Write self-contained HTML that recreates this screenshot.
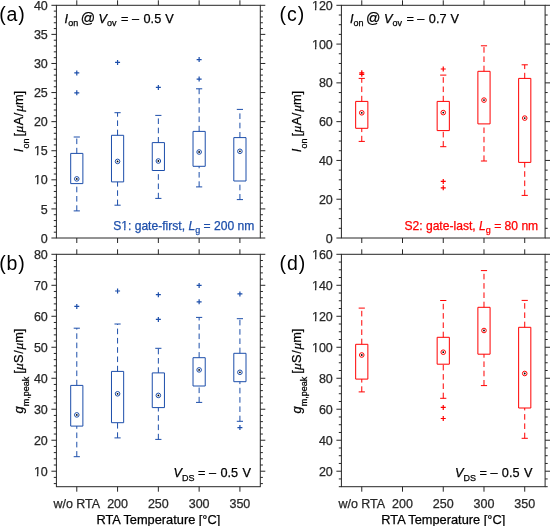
<!DOCTYPE html>
<html><head><meta charset="utf-8"><style>
html,body{margin:0;padding:0;background:#fff;}
svg{display:block;}
svg{will-change:transform;}
text{font-family:"Liberation Sans",sans-serif;stroke-width:0.25px;paint-order:stroke;}
.t,.l,.an{stroke:#000;}
.t{font-size:12.5px;fill:#262626;stroke:#262626 !important;}
.l{font-size:12.8px;fill:#000;}
.pl{font-size:19.5px;fill:#000;letter-spacing:0.9px;}
.an{font-size:12.7px;fill:#000;}
.sn{font-size:12.1px;}
.mu{font-family:"Liberation Serif",serif;font-style:italic;font-size:13.5px;}
</style></head><body>
<svg width="550" height="526" viewBox="0 0 550 526">
<rect width="550" height="526" fill="#fff"/>
<rect x="56.4" y="5.3" width="203.90" height="232.70" fill="none" stroke="#262626" stroke-width="1"/>
<path d="M76.79 5.3V0.2999999999999998M76.79 238.0V243.0M117.57 5.3V0.2999999999999998M117.57 238.0V243.0M158.35 5.3V0.2999999999999998M158.35 238.0V243.0M199.13 5.3V0.2999999999999998M199.13 238.0V243.0M239.91 5.3V0.2999999999999998M239.91 238.0V243.0M56.4 238.00H51.4M260.3 238.00H265.3M56.4 232.18H53.8M260.3 232.18H262.90000000000003M56.4 226.37H53.8M260.3 226.37H262.90000000000003M56.4 220.55H53.8M260.3 220.55H262.90000000000003M56.4 214.73H53.8M260.3 214.73H262.90000000000003M56.4 208.91H51.4M260.3 208.91H265.3M56.4 203.09H53.8M260.3 203.09H262.90000000000003M56.4 197.28H53.8M260.3 197.28H262.90000000000003M56.4 191.46H53.8M260.3 191.46H262.90000000000003M56.4 185.64H53.8M260.3 185.64H262.90000000000003M56.4 179.82H51.4M260.3 179.82H265.3M56.4 174.01H53.8M260.3 174.01H262.90000000000003M56.4 168.19H53.8M260.3 168.19H262.90000000000003M56.4 162.37H53.8M260.3 162.37H262.90000000000003M56.4 156.56H53.8M260.3 156.56H262.90000000000003M56.4 150.74H51.4M260.3 150.74H265.3M56.4 144.92H53.8M260.3 144.92H262.90000000000003M56.4 139.10H53.8M260.3 139.10H262.90000000000003M56.4 133.29H53.8M260.3 133.29H262.90000000000003M56.4 127.47H53.8M260.3 127.47H262.90000000000003M56.4 121.65H51.4M260.3 121.65H265.3M56.4 115.83H53.8M260.3 115.83H262.90000000000003M56.4 110.02H53.8M260.3 110.02H262.90000000000003M56.4 104.20H53.8M260.3 104.20H262.90000000000003M56.4 98.38H53.8M260.3 98.38H262.90000000000003M56.4 92.56H51.4M260.3 92.56H265.3M56.4 86.75H53.8M260.3 86.75H262.90000000000003M56.4 80.93H53.8M260.3 80.93H262.90000000000003M56.4 75.11H53.8M260.3 75.11H262.90000000000003M56.4 69.29H53.8M260.3 69.29H262.90000000000003M56.4 63.47H51.4M260.3 63.47H265.3M56.4 57.66H53.8M260.3 57.66H262.90000000000003M56.4 51.84H53.8M260.3 51.84H262.90000000000003M56.4 46.02H53.8M260.3 46.02H262.90000000000003M56.4 40.21H53.8M260.3 40.21H262.90000000000003M56.4 34.39H51.4M260.3 34.39H265.3M56.4 28.57H53.8M260.3 28.57H262.90000000000003M56.4 22.75H53.8M260.3 22.75H262.90000000000003M56.4 16.94H53.8M260.3 16.94H262.90000000000003M56.4 11.12H53.8M260.3 11.12H262.90000000000003M56.4 5.30H51.4M260.3 5.30H265.3" stroke="#262626" stroke-width="1" fill="none"/>
<text x="47.80" y="242.60" text-anchor="end" class="t">0</text>
<text x="47.80" y="213.51" text-anchor="end" class="t">5</text>
<text x="47.80" y="184.42" text-anchor="end" class="t">10</text>
<text x="47.80" y="155.34" text-anchor="end" class="t">15</text>
<text x="47.80" y="126.25" text-anchor="end" class="t">20</text>
<text x="47.80" y="97.16" text-anchor="end" class="t">25</text>
<text x="47.80" y="68.07" text-anchor="end" class="t">30</text>
<text x="47.80" y="38.99" text-anchor="end" class="t">35</text>
<text x="47.80" y="9.90" text-anchor="end" class="t">40</text>
<rect x="56.4" y="254.3" width="203.90" height="232.40" fill="none" stroke="#262626" stroke-width="1"/>
<path d="M76.79 254.3V249.3M76.79 486.7V491.7M117.57 254.3V249.3M117.57 486.7V491.7M158.35 254.3V249.3M158.35 486.7V491.7M199.13 254.3V249.3M199.13 486.7V491.7M239.91 254.3V249.3M239.91 486.7V491.7M56.4 483.60H53.8M260.3 483.60H262.90000000000003M56.4 477.40H53.8M260.3 477.40H262.90000000000003M56.4 471.21H51.4M260.3 471.21H265.3M56.4 465.01H53.8M260.3 465.01H262.90000000000003M56.4 458.81H53.8M260.3 458.81H262.90000000000003M56.4 452.61H53.8M260.3 452.61H262.90000000000003M56.4 446.42H53.8M260.3 446.42H262.90000000000003M56.4 440.22H51.4M260.3 440.22H265.3M56.4 434.02H53.8M260.3 434.02H262.90000000000003M56.4 427.83H53.8M260.3 427.83H262.90000000000003M56.4 421.63H53.8M260.3 421.63H262.90000000000003M56.4 415.43H53.8M260.3 415.43H262.90000000000003M56.4 409.23H51.4M260.3 409.23H265.3M56.4 403.04H53.8M260.3 403.04H262.90000000000003M56.4 396.84H53.8M260.3 396.84H262.90000000000003M56.4 390.64H53.8M260.3 390.64H262.90000000000003M56.4 384.44H53.8M260.3 384.44H262.90000000000003M56.4 378.25H51.4M260.3 378.25H265.3M56.4 372.05H53.8M260.3 372.05H262.90000000000003M56.4 365.85H53.8M260.3 365.85H262.90000000000003M56.4 359.65H53.8M260.3 359.65H262.90000000000003M56.4 353.46H53.8M260.3 353.46H262.90000000000003M56.4 347.26H51.4M260.3 347.26H265.3M56.4 341.06H53.8M260.3 341.06H262.90000000000003M56.4 334.87H53.8M260.3 334.87H262.90000000000003M56.4 328.67H53.8M260.3 328.67H262.90000000000003M56.4 322.47H53.8M260.3 322.47H262.90000000000003M56.4 316.27H51.4M260.3 316.27H265.3M56.4 310.08H53.8M260.3 310.08H262.90000000000003M56.4 303.88H53.8M260.3 303.88H262.90000000000003M56.4 297.68H53.8M260.3 297.68H262.90000000000003M56.4 291.48H53.8M260.3 291.48H262.90000000000003M56.4 285.29H51.4M260.3 285.29H265.3M56.4 279.09H53.8M260.3 279.09H262.90000000000003M56.4 272.89H53.8M260.3 272.89H262.90000000000003M56.4 266.69H53.8M260.3 266.69H262.90000000000003M56.4 260.50H53.8M260.3 260.50H262.90000000000003M56.4 254.30H51.4M260.3 254.30H265.3" stroke="#262626" stroke-width="1" fill="none"/>
<text x="47.80" y="475.81" text-anchor="end" class="t">10</text>
<text x="47.80" y="444.82" text-anchor="end" class="t">20</text>
<text x="47.80" y="413.83" text-anchor="end" class="t">30</text>
<text x="47.80" y="382.85" text-anchor="end" class="t">40</text>
<text x="47.80" y="351.86" text-anchor="end" class="t">50</text>
<text x="47.80" y="320.87" text-anchor="end" class="t">60</text>
<text x="47.80" y="289.89" text-anchor="end" class="t">70</text>
<text x="47.80" y="258.90" text-anchor="end" class="t">80</text>
<rect x="341.4" y="5.3" width="203.70" height="232.70" fill="none" stroke="#262626" stroke-width="1"/>
<path d="M361.77 5.3V0.2999999999999998M361.77 238.0V243.0M402.51 5.3V0.2999999999999998M402.51 238.0V243.0M443.25 5.3V0.2999999999999998M443.25 238.0V243.0M483.99 5.3V0.2999999999999998M483.99 238.0V243.0M524.73 5.3V0.2999999999999998M524.73 238.0V243.0M341.4 238.00H336.4M545.1 238.00H550.1M341.4 228.30H338.79999999999995M545.1 228.30H547.7M341.4 218.61H338.79999999999995M545.1 218.61H547.7M341.4 208.91H338.79999999999995M545.1 208.91H547.7M341.4 199.22H336.4M545.1 199.22H550.1M341.4 189.52H338.79999999999995M545.1 189.52H547.7M341.4 179.82H338.79999999999995M545.1 179.82H547.7M341.4 170.13H338.79999999999995M545.1 170.13H547.7M341.4 160.43H336.4M545.1 160.43H550.1M341.4 150.74H338.79999999999995M545.1 150.74H547.7M341.4 141.04H338.79999999999995M545.1 141.04H547.7M341.4 131.35H338.79999999999995M545.1 131.35H547.7M341.4 121.65H336.4M545.1 121.65H550.1M341.4 111.95H338.79999999999995M545.1 111.95H547.7M341.4 102.26H338.79999999999995M545.1 102.26H547.7M341.4 92.56H338.79999999999995M545.1 92.56H547.7M341.4 82.87H336.4M545.1 82.87H550.1M341.4 73.17H338.79999999999995M545.1 73.17H547.7M341.4 63.47H338.79999999999995M545.1 63.47H547.7M341.4 53.78H338.79999999999995M545.1 53.78H547.7M341.4 44.08H336.4M545.1 44.08H550.1M341.4 34.39H338.79999999999995M545.1 34.39H547.7M341.4 24.69H338.79999999999995M545.1 24.69H547.7M341.4 15.00H338.79999999999995M545.1 15.00H547.7M341.4 5.30H336.4M545.1 5.30H550.1" stroke="#262626" stroke-width="1" fill="none"/>
<text x="332.80" y="242.60" text-anchor="end" class="t">0</text>
<text x="332.80" y="203.82" text-anchor="end" class="t">20</text>
<text x="332.80" y="165.03" text-anchor="end" class="t">40</text>
<text x="332.80" y="126.25" text-anchor="end" class="t">60</text>
<text x="332.80" y="87.47" text-anchor="end" class="t">80</text>
<text x="332.80" y="48.68" text-anchor="end" class="t">100</text>
<text x="332.80" y="9.90" text-anchor="end" class="t">120</text>
<rect x="341.4" y="254.3" width="203.70" height="232.40" fill="none" stroke="#262626" stroke-width="1"/>
<path d="M361.77 254.3V249.3M361.77 486.7V491.7M402.51 254.3V249.3M402.51 486.7V491.7M443.25 254.3V249.3M443.25 486.7V491.7M483.99 254.3V249.3M483.99 486.7V491.7M524.73 254.3V249.3M524.73 486.7V491.7M341.4 486.70H338.79999999999995M545.1 486.70H547.7M341.4 478.95H338.79999999999995M545.1 478.95H547.7M341.4 471.21H336.4M545.1 471.21H550.1M341.4 463.46H338.79999999999995M545.1 463.46H547.7M341.4 455.71H338.79999999999995M545.1 455.71H547.7M341.4 447.97H338.79999999999995M545.1 447.97H547.7M341.4 440.22H336.4M545.1 440.22H550.1M341.4 432.47H338.79999999999995M545.1 432.47H547.7M341.4 424.73H338.79999999999995M545.1 424.73H547.7M341.4 416.98H338.79999999999995M545.1 416.98H547.7M341.4 409.23H336.4M545.1 409.23H550.1M341.4 401.49H338.79999999999995M545.1 401.49H547.7M341.4 393.74H338.79999999999995M545.1 393.74H547.7M341.4 385.99H338.79999999999995M545.1 385.99H547.7M341.4 378.25H336.4M545.1 378.25H550.1M341.4 370.50H338.79999999999995M545.1 370.50H547.7M341.4 362.75H338.79999999999995M545.1 362.75H547.7M341.4 355.01H338.79999999999995M545.1 355.01H547.7M341.4 347.26H336.4M545.1 347.26H550.1M341.4 339.51H338.79999999999995M545.1 339.51H547.7M341.4 331.77H338.79999999999995M545.1 331.77H547.7M341.4 324.02H338.79999999999995M545.1 324.02H547.7M341.4 316.27H336.4M545.1 316.27H550.1M341.4 308.53H338.79999999999995M545.1 308.53H547.7M341.4 300.78H338.79999999999995M545.1 300.78H547.7M341.4 293.03H338.79999999999995M545.1 293.03H547.7M341.4 285.29H336.4M545.1 285.29H550.1M341.4 277.54H338.79999999999995M545.1 277.54H547.7M341.4 269.79H338.79999999999995M545.1 269.79H547.7M341.4 262.05H338.79999999999995M545.1 262.05H547.7M341.4 254.30H336.4M545.1 254.30H550.1" stroke="#262626" stroke-width="1" fill="none"/>
<text x="332.80" y="475.81" text-anchor="end" class="t">20</text>
<text x="332.80" y="444.82" text-anchor="end" class="t">40</text>
<text x="332.80" y="413.83" text-anchor="end" class="t">60</text>
<text x="332.80" y="382.85" text-anchor="end" class="t">80</text>
<text x="332.80" y="351.86" text-anchor="end" class="t">100</text>
<text x="332.80" y="320.87" text-anchor="end" class="t">120</text>
<text x="332.80" y="289.89" text-anchor="end" class="t">140</text>
<text x="332.80" y="258.90" text-anchor="end" class="t">160</text>
<rect x="70.69" y="153.4" width="12.2" height="30.20" fill="none" stroke="#1c4eaa" stroke-width="1" stroke-linejoin="round"/>
<path d="M76.79 153.4V137.0M76.79 210.9V183.6" stroke="#1c4eaa" stroke-width="1" stroke-dasharray="5.6 3.7" fill="none"/>
<path d="M73.69 137.0H79.89M73.69 210.9H79.89" stroke="#1c4eaa" stroke-width="1" fill="none"/>
<circle cx="76.79" cy="178.9" r="2.3" fill="none" stroke="#1c4eaa" stroke-width="1" stroke-linejoin="round"/>
<circle cx="76.79" cy="178.9" r="0.9" fill="#000"/>
<path d="M74.29 72.9H79.29M76.79 70.4V75.4" stroke="#1c4eaa" stroke-width="1.2" fill="none"/>
<path d="M74.29 92.8H79.29M76.79 90.3V95.3" stroke="#1c4eaa" stroke-width="1.2" fill="none"/>
<rect x="111.47" y="135.3" width="12.2" height="46.60" fill="none" stroke="#1c4eaa" stroke-width="1" stroke-linejoin="round"/>
<path d="M117.57 135.3V112.7M117.57 205.2V181.9" stroke="#1c4eaa" stroke-width="1" stroke-dasharray="5.6 3.7" fill="none"/>
<path d="M114.47 112.7H120.67M114.47 205.2H120.67" stroke="#1c4eaa" stroke-width="1" fill="none"/>
<circle cx="117.57" cy="161.4" r="2.3" fill="none" stroke="#1c4eaa" stroke-width="1" stroke-linejoin="round"/>
<circle cx="117.57" cy="161.4" r="0.9" fill="#000"/>
<path d="M115.07 62.4H120.07M117.57 59.9V64.9" stroke="#1c4eaa" stroke-width="1.2" fill="none"/>
<rect x="152.25" y="142.6" width="12.2" height="27.90" fill="none" stroke="#1c4eaa" stroke-width="1" stroke-linejoin="round"/>
<path d="M158.35 142.6V115.4M158.35 198.4V170.5" stroke="#1c4eaa" stroke-width="1" stroke-dasharray="5.6 3.7" fill="none"/>
<path d="M155.25 115.4H161.45M155.25 198.4H161.45" stroke="#1c4eaa" stroke-width="1" fill="none"/>
<circle cx="158.35" cy="161.0" r="2.3" fill="none" stroke="#1c4eaa" stroke-width="1" stroke-linejoin="round"/>
<circle cx="158.35" cy="161.0" r="0.9" fill="#000"/>
<path d="M155.85 87.4H160.85M158.35 84.9V89.9" stroke="#1c4eaa" stroke-width="1.2" fill="none"/>
<rect x="193.03" y="131.4" width="12.2" height="34.90" fill="none" stroke="#1c4eaa" stroke-width="1" stroke-linejoin="round"/>
<path d="M199.13 131.4V88.8M199.13 186.9V166.3" stroke="#1c4eaa" stroke-width="1" stroke-dasharray="5.6 3.7" fill="none"/>
<path d="M196.03 88.8H202.23M196.03 186.9H202.23" stroke="#1c4eaa" stroke-width="1" fill="none"/>
<circle cx="199.13" cy="152.0" r="2.3" fill="none" stroke="#1c4eaa" stroke-width="1" stroke-linejoin="round"/>
<circle cx="199.13" cy="152.0" r="0.9" fill="#000"/>
<path d="M196.63 59.6H201.63M199.13 57.1V62.1" stroke="#1c4eaa" stroke-width="1.2" fill="none"/>
<path d="M196.63 79.1H201.63M199.13 76.6V81.6" stroke="#1c4eaa" stroke-width="1.2" fill="none"/>
<rect x="233.81" y="137.6" width="12.2" height="43.40" fill="none" stroke="#1c4eaa" stroke-width="1" stroke-linejoin="round"/>
<path d="M239.91 137.6V109.4M239.91 199.6V181.0" stroke="#1c4eaa" stroke-width="1" stroke-dasharray="5.6 3.7" fill="none"/>
<path d="M236.81 109.4H243.01M236.81 199.6H243.01" stroke="#1c4eaa" stroke-width="1" fill="none"/>
<circle cx="239.91" cy="151.3" r="2.3" fill="none" stroke="#1c4eaa" stroke-width="1" stroke-linejoin="round"/>
<circle cx="239.91" cy="151.3" r="0.9" fill="#000"/>
<rect x="70.69" y="385.4" width="12.2" height="40.70" fill="none" stroke="#1c4eaa" stroke-width="1" stroke-linejoin="round"/>
<path d="M76.79 385.4V328.2M76.79 456.7V426.1" stroke="#1c4eaa" stroke-width="1" stroke-dasharray="5.6 3.7" fill="none"/>
<path d="M73.69 328.2H79.89M73.69 456.7H79.89" stroke="#1c4eaa" stroke-width="1" fill="none"/>
<circle cx="76.79" cy="414.9" r="2.3" fill="none" stroke="#1c4eaa" stroke-width="1" stroke-linejoin="round"/>
<circle cx="76.79" cy="414.9" r="0.9" fill="#000"/>
<path d="M74.29 306.4H79.29M76.79 303.9V308.9" stroke="#1c4eaa" stroke-width="1.2" fill="none"/>
<rect x="111.47" y="371.4" width="12.2" height="51.30" fill="none" stroke="#1c4eaa" stroke-width="1" stroke-linejoin="round"/>
<path d="M117.57 371.4V324.0M117.57 437.9V422.7" stroke="#1c4eaa" stroke-width="1" stroke-dasharray="5.6 3.7" fill="none"/>
<path d="M114.47 324.0H120.67M114.47 437.9H120.67" stroke="#1c4eaa" stroke-width="1" fill="none"/>
<circle cx="117.57" cy="393.8" r="2.3" fill="none" stroke="#1c4eaa" stroke-width="1" stroke-linejoin="round"/>
<circle cx="117.57" cy="393.8" r="0.9" fill="#000"/>
<path d="M115.07 291.0H120.07M117.57 288.5V293.5" stroke="#1c4eaa" stroke-width="1.2" fill="none"/>
<rect x="152.25" y="372.9" width="12.2" height="34.70" fill="none" stroke="#1c4eaa" stroke-width="1" stroke-linejoin="round"/>
<path d="M158.35 372.9V348.3M158.35 439.4V407.6" stroke="#1c4eaa" stroke-width="1" stroke-dasharray="5.6 3.7" fill="none"/>
<path d="M155.25 348.3H161.45M155.25 439.4H161.45" stroke="#1c4eaa" stroke-width="1" fill="none"/>
<circle cx="158.35" cy="395.4" r="2.3" fill="none" stroke="#1c4eaa" stroke-width="1" stroke-linejoin="round"/>
<circle cx="158.35" cy="395.4" r="0.9" fill="#000"/>
<path d="M155.85 294.7H160.85M158.35 292.2V297.2" stroke="#1c4eaa" stroke-width="1.2" fill="none"/>
<path d="M155.85 319.4H160.85M158.35 316.9V321.9" stroke="#1c4eaa" stroke-width="1.2" fill="none"/>
<rect x="193.03" y="357.7" width="12.2" height="28.30" fill="none" stroke="#1c4eaa" stroke-width="1" stroke-linejoin="round"/>
<path d="M199.13 357.7V317.4M199.13 402.4V386.0" stroke="#1c4eaa" stroke-width="1" stroke-dasharray="5.6 3.7" fill="none"/>
<path d="M196.03 317.4H202.23M196.03 402.4H202.23" stroke="#1c4eaa" stroke-width="1" fill="none"/>
<circle cx="199.13" cy="369.9" r="2.3" fill="none" stroke="#1c4eaa" stroke-width="1" stroke-linejoin="round"/>
<circle cx="199.13" cy="369.9" r="0.9" fill="#000"/>
<path d="M196.63 285.4H201.63M199.13 282.9V287.9" stroke="#1c4eaa" stroke-width="1.2" fill="none"/>
<path d="M196.63 301.8H201.63M199.13 299.3V304.3" stroke="#1c4eaa" stroke-width="1.2" fill="none"/>
<rect x="233.81" y="353.3" width="12.2" height="28.40" fill="none" stroke="#1c4eaa" stroke-width="1" stroke-linejoin="round"/>
<path d="M239.91 353.3V318.7M239.91 421.3V381.7" stroke="#1c4eaa" stroke-width="1" stroke-dasharray="5.6 3.7" fill="none"/>
<path d="M236.81 318.7H243.01M236.81 421.3H243.01" stroke="#1c4eaa" stroke-width="1" fill="none"/>
<circle cx="239.91" cy="372.3" r="2.3" fill="none" stroke="#1c4eaa" stroke-width="1" stroke-linejoin="round"/>
<circle cx="239.91" cy="372.3" r="0.9" fill="#000"/>
<path d="M237.41 293.9H242.41M239.91 291.4V296.4" stroke="#1c4eaa" stroke-width="1.2" fill="none"/>
<path d="M237.41 427.6H242.41M239.91 425.1V430.1" stroke="#1c4eaa" stroke-width="1.2" fill="none"/>
<rect x="355.67" y="101.4" width="12.2" height="26.90" fill="none" stroke="#ff0000" stroke-width="1" stroke-linejoin="round"/>
<path d="M361.77 101.4V78.4M361.77 141.4V128.3" stroke="#ff0000" stroke-width="1" stroke-dasharray="5.6 3.7" fill="none"/>
<path d="M358.67 78.4H364.87M358.67 141.4H364.87" stroke="#ff0000" stroke-width="1" fill="none"/>
<circle cx="361.77" cy="112.8" r="2.3" fill="none" stroke="#ff0000" stroke-width="1" stroke-linejoin="round"/>
<circle cx="361.77" cy="112.8" r="0.9" fill="#000"/>
<path d="M359.27 72.8H364.27M361.77 70.3V75.3" stroke="#ff0000" stroke-width="1.2" fill="none"/>
<path d="M359.27 74.3H364.27M361.77 71.8V76.8" stroke="#ff0000" stroke-width="1.2" fill="none"/>
<rect x="437.15" y="101.4" width="12.2" height="29.20" fill="none" stroke="#ff0000" stroke-width="1" stroke-linejoin="round"/>
<path d="M443.25 101.4V75.1M443.25 146.7V130.6" stroke="#ff0000" stroke-width="1" stroke-dasharray="5.6 3.7" fill="none"/>
<path d="M440.15 75.1H446.35M440.15 146.7H446.35" stroke="#ff0000" stroke-width="1" fill="none"/>
<circle cx="443.25" cy="112.6" r="2.3" fill="none" stroke="#ff0000" stroke-width="1" stroke-linejoin="round"/>
<circle cx="443.25" cy="112.6" r="0.9" fill="#000"/>
<path d="M440.75 69.0H445.75M443.25 66.5V71.5" stroke="#ff0000" stroke-width="1.2" fill="none"/>
<path d="M440.75 181.4H445.75M443.25 178.9V183.9" stroke="#ff0000" stroke-width="1.2" fill="none"/>
<path d="M440.75 187.8H445.75M443.25 185.3V190.3" stroke="#ff0000" stroke-width="1.2" fill="none"/>
<rect x="477.89" y="71.3" width="12.2" height="52.60" fill="none" stroke="#ff0000" stroke-width="1" stroke-linejoin="round"/>
<path d="M483.99 71.3V45.8M483.99 161.0V123.9" stroke="#ff0000" stroke-width="1" stroke-dasharray="5.6 3.7" fill="none"/>
<path d="M480.89 45.8H487.09M480.89 161.0H487.09" stroke="#ff0000" stroke-width="1" fill="none"/>
<circle cx="483.99" cy="100.1" r="2.3" fill="none" stroke="#ff0000" stroke-width="1" stroke-linejoin="round"/>
<circle cx="483.99" cy="100.1" r="0.9" fill="#000"/>
<rect x="518.63" y="78.4" width="12.2" height="84.00" fill="none" stroke="#ff0000" stroke-width="1" stroke-linejoin="round"/>
<path d="M524.73 78.4V64.8M524.73 195.4V162.4" stroke="#ff0000" stroke-width="1" stroke-dasharray="5.6 3.7" fill="none"/>
<path d="M521.63 64.8H527.83M521.63 195.4H527.83" stroke="#ff0000" stroke-width="1" fill="none"/>
<circle cx="524.73" cy="118.1" r="2.3" fill="none" stroke="#ff0000" stroke-width="1" stroke-linejoin="round"/>
<circle cx="524.73" cy="118.1" r="0.9" fill="#000"/>
<rect x="355.67" y="344.3" width="12.2" height="34.80" fill="none" stroke="#ff0000" stroke-width="1" stroke-linejoin="round"/>
<path d="M361.77 344.3V308.1M361.77 391.9V379.1" stroke="#ff0000" stroke-width="1" stroke-dasharray="5.6 3.7" fill="none"/>
<path d="M358.67 308.1H364.87M358.67 391.9H364.87" stroke="#ff0000" stroke-width="1" fill="none"/>
<circle cx="361.77" cy="355.0" r="2.3" fill="none" stroke="#ff0000" stroke-width="1" stroke-linejoin="round"/>
<circle cx="361.77" cy="355.0" r="0.9" fill="#000"/>
<rect x="437.15" y="337.3" width="12.2" height="26.90" fill="none" stroke="#ff0000" stroke-width="1" stroke-linejoin="round"/>
<path d="M443.25 337.3V300.5M443.25 398.3V364.2" stroke="#ff0000" stroke-width="1" stroke-dasharray="5.6 3.7" fill="none"/>
<path d="M440.15 300.5H446.35M440.15 398.3H446.35" stroke="#ff0000" stroke-width="1" fill="none"/>
<circle cx="443.25" cy="352.2" r="2.3" fill="none" stroke="#ff0000" stroke-width="1" stroke-linejoin="round"/>
<circle cx="443.25" cy="352.2" r="0.9" fill="#000"/>
<path d="M440.75 407.4H445.75M443.25 404.9V409.9" stroke="#ff0000" stroke-width="1.2" fill="none"/>
<path d="M440.75 418.5H445.75M443.25 416.0V421.0" stroke="#ff0000" stroke-width="1.2" fill="none"/>
<rect x="477.89" y="307.3" width="12.2" height="46.90" fill="none" stroke="#ff0000" stroke-width="1" stroke-linejoin="round"/>
<path d="M483.99 307.3V270.6M483.99 385.6V354.2" stroke="#ff0000" stroke-width="1" stroke-dasharray="5.6 3.7" fill="none"/>
<path d="M480.89 270.6H487.09M480.89 385.6H487.09" stroke="#ff0000" stroke-width="1" fill="none"/>
<circle cx="483.99" cy="330.5" r="2.3" fill="none" stroke="#ff0000" stroke-width="1" stroke-linejoin="round"/>
<circle cx="483.99" cy="330.5" r="0.9" fill="#000"/>
<rect x="518.63" y="327.3" width="12.2" height="80.70" fill="none" stroke="#ff0000" stroke-width="1" stroke-linejoin="round"/>
<path d="M524.73 327.3V300.4M524.73 438.3V408.0" stroke="#ff0000" stroke-width="1" stroke-dasharray="5.6 3.7" fill="none"/>
<path d="M521.63 300.4H527.83M521.63 438.3H527.83" stroke="#ff0000" stroke-width="1" fill="none"/>
<circle cx="524.73" cy="373.5" r="2.3" fill="none" stroke="#ff0000" stroke-width="1" stroke-linejoin="round"/>
<circle cx="524.73" cy="373.5" r="0.9" fill="#000"/>
<text x="76.79" y="507.7" text-anchor="middle" class="t">w/o RTA</text>
<text x="117.57" y="507.7" text-anchor="middle" class="t">200</text>
<text x="158.35" y="507.7" text-anchor="middle" class="t">250</text>
<text x="199.13" y="507.7" text-anchor="middle" class="t">300</text>
<text x="239.91" y="507.7" text-anchor="middle" class="t">350</text>
<text x="158.35" y="523.9" text-anchor="middle" class="l">RTA Temperature [°C]</text>
<text x="361.77" y="507.7" text-anchor="middle" class="t">w/o RTA</text>
<text x="402.51" y="507.7" text-anchor="middle" class="t">200</text>
<text x="443.25" y="507.7" text-anchor="middle" class="t">250</text>
<text x="483.99" y="507.7" text-anchor="middle" class="t">300</text>
<text x="524.73" y="507.7" text-anchor="middle" class="t">350</text>
<text x="443.25" y="523.9" text-anchor="middle" class="l">RTA Temperature [°C]</text>
<text x="-0.8" y="20.6" class="pl">(a)</text>
<text x="-0.8" y="269.65" class="pl">(b)</text>
<text x="279.6" y="20.6" class="pl">(c)</text>
<text x="279.6" y="269.65" class="pl">(d)</text>
<text transform="translate(22.8 121.5) rotate(-90)" text-anchor="middle" class="l"><tspan font-style="italic">I</tspan><tspan font-size="9.0" dy="6.3">on</tspan><tspan dy="-6.3" dx="-1.4"> [</tspan><tspan class="mu" dx="0.3">μ</tspan><tspan dx="0.4">A</tspan><tspan dx="0.7">/</tspan><tspan class="mu" dx="0.8">μ</tspan><tspan dx="-0.1">m]</tspan></text>
<text transform="translate(22.8 371.0) rotate(-90)" text-anchor="middle" class="l"><tspan font-style="italic">g</tspan><tspan font-size="9.0" dy="6.3">m,peak</tspan><tspan dy="-6.3" dx="-0.6"> [</tspan><tspan class="mu" dx="0.2">μ</tspan><tspan dx="0.2">S</tspan><tspan dx="0.8">/</tspan><tspan class="mu" dx="0.8">μ</tspan><tspan dx="-0.2">m]</tspan></text>
<text transform="translate(300.6 121.5) rotate(-90)" text-anchor="middle" class="l"><tspan font-style="italic">I</tspan><tspan font-size="9.0" dy="6.3">on</tspan><tspan dy="-6.3" dx="-1.4"> [</tspan><tspan class="mu" dx="0.3">μ</tspan><tspan dx="0.4">A</tspan><tspan dx="0.7">/</tspan><tspan class="mu" dx="0.8">μ</tspan><tspan dx="-0.1">m]</tspan></text>
<text transform="translate(300.6 371.0) rotate(-90)" text-anchor="middle" class="l"><tspan font-style="italic">g</tspan><tspan font-size="9.0" dy="6.3">m,peak</tspan><tspan dy="-6.3" dx="-0.6"> [</tspan><tspan class="mu" dx="0.2">μ</tspan><tspan dx="0.2">S</tspan><tspan dx="0.8">/</tspan><tspan class="mu" dx="0.8">μ</tspan><tspan dx="-0.2">m]</tspan></text>
<text x="64.6" y="22.7" class="an"><tspan font-style="italic">I</tspan><tspan font-size="9.0" dy="3.4">on</tspan><tspan dy="-3.4"> </tspan><tspan font-size="14.2" dy="0.6" dx="-1.0">@</tspan><tspan dy="-0.6"> </tspan><tspan font-style="italic">V</tspan><tspan font-size="9.0" dy="3.4">ov</tspan><tspan dy="-3.4" dx="1.0"> = – </tspan><tspan dx="0.9">0.5</tspan><tspan dx="0.6"> V</tspan></text>
<text x="349.9" y="22.7" class="an"><tspan font-style="italic">I</tspan><tspan font-size="9.0" dy="3.4">on</tspan><tspan dy="-3.4"> </tspan><tspan font-size="14.2" dy="0.6" dx="-1.0">@</tspan><tspan dy="-0.6"> </tspan><tspan font-style="italic">V</tspan><tspan font-size="9.0" dy="3.4">ov</tspan><tspan dy="-3.4" dx="1.0"> = – </tspan><tspan dx="0.9">0.7</tspan><tspan dx="0.6"> V</tspan></text>
<text x="173.6" y="477.3" class="an"><tspan font-style="italic">V</tspan><tspan font-size="9.0" dy="3.4">DS</tspan><tspan dy="-3.4"> = – </tspan><tspan dx="0.8">0.5</tspan><tspan dx="0.9"> V</tspan></text>
<text x="455.0" y="477.3" class="an"><tspan font-style="italic">V</tspan><tspan font-size="9.0" dy="3.4">DS</tspan><tspan dy="-3.4"> = – </tspan><tspan dx="0.8">0.5</tspan><tspan dx="0.9"> V</tspan></text>
<text x="254.3" y="229.8" text-anchor="end" class="sn" style="fill:#1c4eaa;stroke:#1c4eaa">S1: gate-first, <tspan font-style="italic">L</tspan><tspan font-size="9.0" dy="3.4">g</tspan><tspan dy="-3.4"> = 200 nm</tspan></text>
<text x="538.2" y="229.8" text-anchor="end" class="sn" style="fill:#ff0000;stroke:#ff0000">S2: gate-last, <tspan font-style="italic">L</tspan><tspan font-size="9.0" dy="3.4">g</tspan><tspan dy="-3.4"> = 80 nm</tspan></text>
<g id="covers" fill="#fff"><rect x="33.95" y="182.97" width="2.94" height="3.1"/><rect x="38.26" y="182.97" width="2.89" height="3.1"/><rect x="33.95" y="153.89" width="2.94" height="3.1"/><rect x="38.26" y="153.89" width="2.89" height="3.1"/><rect x="33.95" y="474.36" width="2.94" height="3.1"/><rect x="38.26" y="474.36" width="2.89" height="3.1"/><rect x="311.99" y="47.23" width="2.94" height="3.1"/><rect x="316.31" y="47.23" width="2.89" height="3.1"/><rect x="311.99" y="8.45" width="2.94" height="3.1"/><rect x="316.31" y="8.45" width="2.89" height="3.1"/><rect x="311.99" y="350.41" width="2.94" height="3.1"/><rect x="316.31" y="350.41" width="2.89" height="3.1"/><rect x="311.99" y="319.42" width="2.94" height="3.1"/><rect x="316.31" y="319.42" width="2.89" height="3.1"/><rect x="311.99" y="288.44" width="2.94" height="3.1"/><rect x="316.31" y="288.44" width="2.89" height="3.1"/><rect x="311.99" y="257.45" width="2.94" height="3.1"/><rect x="316.31" y="257.45" width="2.89" height="3.1"/><rect x="121.23" y="228.35" width="2.87" height="3.1"/><rect x="125.44" y="228.35" width="2.83" height="3.1"/></g>
</svg>
</body></html>
